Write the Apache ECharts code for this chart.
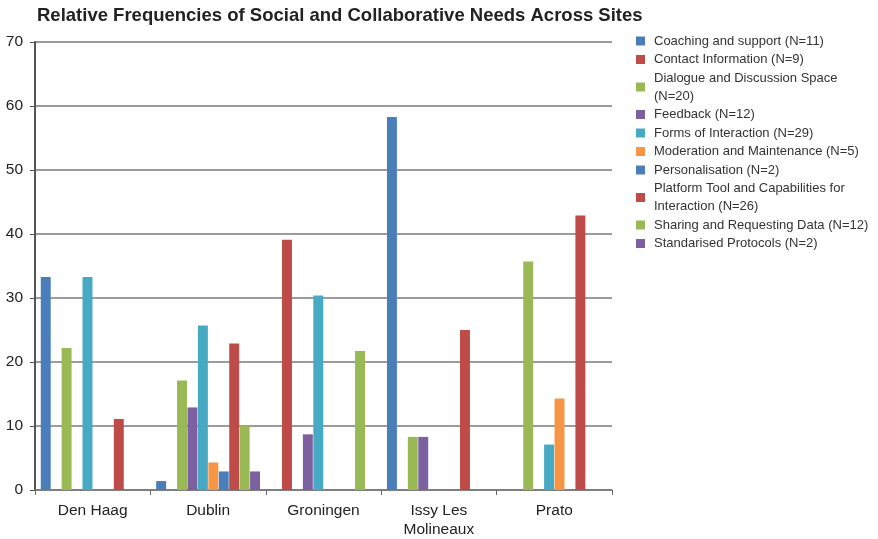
<!DOCTYPE html>
<html>
<head>
<meta charset="utf-8">
<script src="https://cdn.jsdelivr.net/npm/echarts@6/dist/echarts.min.js"></script>
<style>
  html, body { margin: 0; padding: 0; background: #fff; }
  #chart { width: 878px; height: 539px; }
</style>
</head>
<body>
<div id="chart"></div>
<script>
// sites on the x axis
const sites = ["Den Haag", "Dublin", "Groningen", "Issy Les\nMolineaux", "Prato"];
const yTicks = [0, 10, 20, 30, 40, 50, 60, 70];

// one array per need, values per site (%)
const coachingSupport   = [33.3, 1.4, 0, 58.3, 0];
const contactInfo       = [0, 0, 39.1, 0, 0];
const dialogueSpace     = [22.2, 17.1, 0, 8.3, 35.7];
const feedback          = [0, 12.9, 8.7, 8.3, 0];
const formsInteraction  = [33.3, 25.7, 30.4, 0, 7.1];
const moderation        = [0, 4.3, 0, 0, 14.3];
const personalisation   = [0, 2.9, 0, 0, 0];
const platformTools     = [11.1, 22.9, 0, 25.0, 42.9];
const sharingData       = [0, 10.0, 21.7, 0, 0];
const standardised      = [0, 2.9, 0, 0, 0];

const seriesNames = [
  "Coaching and support (N=11)",
  "Contact Information (N=9)",
  "Dialogue and Discussion Space (N=20)",
  "Feedback (N=12)",
  "Forms of Interaction (N=29)",
  "Moderation and Maintenance (N=5)",
  "Personalisation (N=2)",
  "Platform Tool and Capabilities for Interaction (N=26)",
  "Sharing and Requesting Data (N=12)",
  "Standarised Protocols (N=2)"
];
const seriesData = [coachingSupport, contactInfo, dialogueSpace, feedback, formsInteraction,
  moderation, personalisation, platformTools, sharingData, standardised];

const colors = ["#4a7ebb", "#be4b48", "#98b954", "#7d60a0", "#46aac5",
  "#f69544", "#4a7ebb", "#be4b48", "#98b954", "#7d60a0"];

// legend labels that wrap in the original
const wrapped = {
  "Dialogue and Discussion Space (N=20)": "Dialogue and Discussion Space\n(N=20)",
  "Platform Tool and Capabilities for Interaction (N=26)": "Platform Tool and Capabilities for\nInteraction (N=26)"
};

const font = "'Liberation Sans', Arial, sans-serif";
let myChart = echarts.init(document.getElementById("chart"));

myChart.setOption({
  animation: false,
  color: colors,
  title: {
    text: "Relative Frequencies of Social and Collaborative Needs Across Sites",
    left: 32,
    top: 1,
    textStyle: { fontFamily: font, fontSize: 18.5, fontWeight: "bold", color: "#222" }
  },
  legend: {
    orient: "vertical",
    left: 631,
    top: 27,
    itemWidth: 9,
    itemHeight: 9,
    itemGap: 0.5,
    icon: "rect",
    data: seriesNames,
    formatter: name => wrapped[name] || name,
    textStyle: { fontFamily: font, fontSize: 13, color: "#333", lineHeight: 18, padding: [0, 0, 0, 4] }
  },
  grid: { left: 35, right: 266, top: 42, bottom: 47, containLabel: false },
  xAxis: {
    type: "category",
    data: sites,
    axisLine: { lineStyle: { color: "#777", width: 1.5 } },
    axisTick: { show: true, length: 5, lineStyle: { color: "#666" } },
    axisLabel: { fontFamily: font, fontSize: 15.5, color: "#222", margin: 11, lineHeight: 19 }
  },
  yAxis: {
    type: "value",
    min: 0,
    max: 70,
    interval: 10,
    axisLine: { show: true, lineStyle: { color: "#555", width: 2 } },
    axisTick: { show: true, length: 5, lineStyle: { color: "#555" } },
    axisLabel: { fontFamily: font, fontSize: 15.5, color: "#222", margin: 12,
      formatter: v => yTicks.includes(v) ? String(v) : "" },
    splitLine: { lineStyle: { color: "#7a7a7a", width: 1.5 } }
  },
  series: seriesNames.map((name, i) => ({
    name: name,
    type: "bar",
    barGap: "5%",
    barCategoryGap: "10%",
    data: seriesData[i]
  }))
});
</script>
</body>
</html>
